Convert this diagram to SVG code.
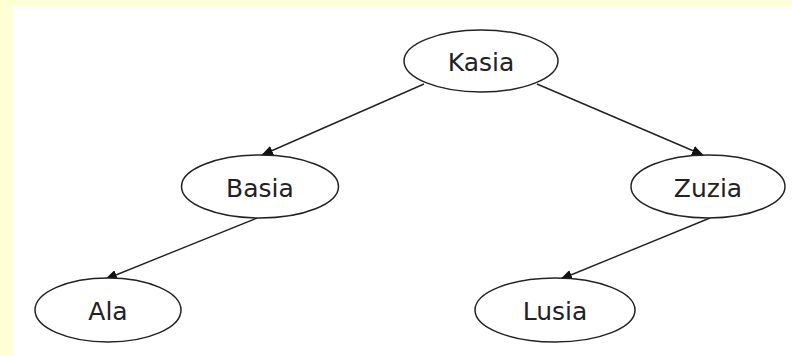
<svg xmlns="http://www.w3.org/2000/svg" width="792" height="356" viewBox="0 0 792 356">
  <style>
    .node ellipse { fill: #ffffff; stroke: #222; stroke-width: 1.5; }
    .node text { font-family: "DejaVu Sans", Verdana, sans-serif; font-size: 25px; fill: #222; text-anchor: middle; }
    .edge { stroke: #222; stroke-width: 1.4; fill: none; marker-end: url(#arrow); }
  </style>
  <defs>
    <marker id="arrow" markerWidth="12" markerHeight="10" refX="11" refY="5" orient="auto" markerUnits="userSpaceOnUse">
      <path d="M0,0 L12,5 L0,10 Z" fill="#111"/>
    </marker>
  </defs>

  <!-- page background with pale frame on top and left -->
  <rect x="0" y="0" width="792" height="356" fill="#ffffd6"/>
  <rect x="13" y="6" width="779" height="350" fill="#ffffff"/>

  <g id="edges">
    <line class="edge" x1="424" y1="84" x2="262" y2="155"/>
    <line class="edge" x1="537" y1="84" x2="703" y2="155"/>
    <line class="edge" x1="257" y1="218" x2="106" y2="279"/>
    <line class="edge" x1="710" y1="218" x2="561" y2="279"/>
  </g>

  <g id="kasia" class="node">
    <ellipse cx="481" cy="61" rx="77" ry="31"/>
    <text x="481" y="71">Kasia</text>
  </g>
  <g id="basia" class="node">
    <ellipse cx="260" cy="186.5" rx="78.5" ry="31.5"/>
    <text x="260" y="197">Basia</text>
  </g>
  <g id="zuzia" class="node">
    <ellipse cx="708" cy="186.5" rx="77" ry="31.5"/>
    <text x="708" y="197">Zuzia</text>
  </g>
  <g id="ala" class="node">
    <ellipse cx="108" cy="310" rx="73" ry="32"/>
    <text x="108" y="320">Ala</text>
  </g>
  <g id="lusia" class="node">
    <ellipse cx="555" cy="310" rx="80" ry="32"/>
    <text x="555" y="320">Lusia</text>
  </g>
</svg>
